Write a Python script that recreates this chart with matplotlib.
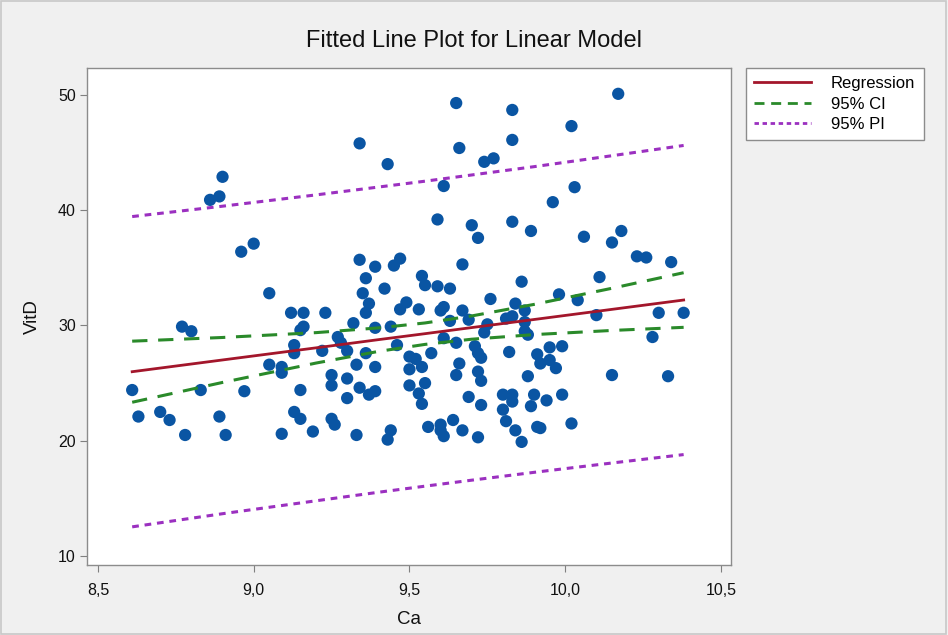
import matplotlib
matplotlib.use('Agg')
import matplotlib.pyplot as plt
from matplotlib.patches import Rectangle
from matplotlib.lines import Line2D
from matplotlib.ticker import FuncFormatter

plt.rcParams['font.family'] = ['Liberation Sans', 'DejaVu Sans']

# scatter data
ca = [8.61, 8.63, 8.70, 8.73, 8.78, 8.77, 8.80, 8.83, 8.86, 8.89, 8.90, 8.89, 8.91, 8.96, 9.00,
      8.97, 9.05, 9.05, 9.09, 9.09, 9.09, 9.12, 9.16, 9.23, 9.15, 9.16, 9.13, 9.13, 9.15, 9.13,
      9.15, 9.19, 9.22, 9.25, 9.25, 9.25, 9.26, 9.27, 9.28, 9.30, 9.30, 9.30, 9.32, 9.33, 9.34,
      9.33, 9.34, 9.34, 9.36, 9.35, 9.37, 9.36, 9.39, 9.36, 9.39, 9.37, 9.39, 9.39,
      9.65, 9.83, 10.02, 10.17, 9.66, 9.83, 9.74, 9.77, 9.43, 9.61, 10.03, 9.96, 9.59, 9.83,
      9.70, 9.89, 9.72, 10.06, 10.15, 10.18, 9.47, 9.45, 9.67, 10.11, 9.54, 9.55, 9.59, 9.63,
      9.42, 9.86, 9.76, 9.98, 10.04, 9.47, 9.49, 9.53, 9.60, 9.61, 9.67, 9.84, 9.87, 9.69,
      9.63, 9.75, 9.81, 9.83, 9.87, 10.10, 9.44, 9.61, 9.65, 9.74, 9.87, 9.88, 9.46, 9.82,
      9.57, 9.71, 9.72, 9.73, 9.91, 9.95, 9.99, 9.50, 9.52, 9.50, 9.54, 9.66, 9.72, 9.92,
      9.95, 9.97, 10.15, 9.65, 9.88, 9.55, 9.73, 9.50, 9.53, 9.54, 9.69, 9.73, 9.80, 9.83,
      9.83, 9.90, 9.89, 9.94, 9.99, 9.80, 9.81, 9.56, 9.60, 9.60, 9.61, 9.64, 9.67, 9.72,
      9.84, 9.86, 9.91, 9.92, 10.02, 9.43, 9.44,
      10.23, 10.26, 10.34, 10.30, 10.38, 10.28, 10.33]
vitd = [24.4, 22.1, 22.5, 21.8, 20.5, 29.9, 29.5, 24.4, 40.9, 41.2, 42.9, 22.1, 20.5, 36.4, 37.1,
        24.3, 32.8, 26.6, 26.4, 25.9, 20.6, 31.1, 31.1, 31.1, 29.6, 29.9, 28.3, 27.6, 24.4, 22.5,
        21.9, 20.8, 27.8, 25.7, 24.8, 21.9, 21.4, 29.0, 28.5, 27.8, 25.4, 23.7, 30.2, 26.6, 24.6,
        20.5, 45.8, 35.7, 34.1, 32.8, 31.9, 31.1, 35.1, 27.6, 26.4, 24.0, 24.3, 29.8,
        49.3, 48.7, 47.3, 50.1, 45.4, 46.1, 44.2, 44.5, 44.0, 42.1, 42.0, 40.7, 39.2, 39.0,
        38.7, 38.2, 37.6, 37.7, 37.2, 38.2, 35.8, 35.2, 35.3, 34.2, 34.3, 33.5, 33.4, 33.2,
        33.2, 33.8, 32.3, 32.7, 32.2, 31.4, 32.0, 31.4, 31.3, 31.6, 31.3, 31.9, 31.3, 30.5,
        30.4, 30.1, 30.6, 30.8, 30.3, 30.9, 29.9, 28.9, 28.5, 29.4, 29.5, 29.2, 28.3, 27.7,
        27.6, 28.2, 27.6, 27.2, 27.5, 28.1, 28.2, 27.3, 27.1, 26.2, 26.4, 26.7, 26.0, 26.7,
        27.0, 26.3, 25.7, 25.7, 25.6, 25.0, 25.2, 24.8, 24.1, 23.2, 23.8, 23.1, 24.0, 24.0,
        23.4, 24.0, 23.0, 23.5, 24.0, 22.7, 21.7, 21.2, 21.4, 20.9, 20.4, 21.8, 20.9, 20.3,
        20.9, 19.9, 21.2, 21.1, 21.5, 20.1, 20.9,
        36.0, 35.9, 35.5, 31.1, 31.1, 29.0, 25.6]

# fitted line and bands
fit_x = [8.61, 8.90, 9.20, 9.40, 9.55, 9.70, 9.90, 10.15, 10.38]
fit_y = [25.99, 27.01, 28.06, 28.77, 29.29, 29.82, 30.52, 31.40, 32.21]
ci_hi = [28.64, 28.96, 29.38, 29.79, 30.22, 30.83, 31.83, 33.23, 34.58]
ci_lo = [23.34, 25.06, 26.74, 27.75, 28.36, 28.81, 29.21, 29.57, 29.84]
pi_hi = [39.45, 40.35, 41.33, 42.01, 42.52, 43.06, 43.78, 44.73, 45.62]
pi_lo = [12.53, 13.67, 14.79, 15.53, 16.06, 16.58, 17.26, 18.07, 18.80]

red, green, purple = '#a3162b', '#2a8a2a', '#9b30c0'

W, H = 948, 635
fig = plt.figure(figsize=(W / 100, H / 100), dpi=100)
fig.patch.set_facecolor('#f0f0f0')
fig.patches.append(Rectangle((0.001, 0.002), 0.997, 0.996, transform=fig.transFigure,
                             fill=False, edgecolor='#c8c8c8', lw=1.2))

ax = fig.add_axes([87 / W, 1 - 565 / H, (731 - 87) / W, (565 - 68) / H])
ax.set_facecolor('white')

ax.scatter(ca, vitd, s=78, color='#0a55a3', edgecolors='none', zorder=3)
ax.plot(fit_x, fit_y, color=red, lw=2.0, zorder=4)
ax.plot(fit_x, ci_hi, color=green, lw=2.2, ls=(0, (5, 3.5)), zorder=4)
ax.plot(fit_x, ci_lo, color=green, lw=2.2, ls=(0, (5, 3.5)), zorder=4)
ax.plot(fit_x, pi_hi, color=purple, lw=2.2, ls=(0, (2.2, 1.9)), zorder=4)
ax.plot(fit_x, pi_lo, color=purple, lw=2.2, ls=(0, (2.2, 1.9)), zorder=4)

ax.set_xlim(8.465, 10.532)
ax.set_ylim(9.22, 52.34)
ax.set_xticks([8.5, 9.0, 9.5, 10.0, 10.5])
ax.set_yticks([10, 20, 30, 40, 50])
ax.xaxis.set_major_formatter(FuncFormatter(lambda v, p: ('%.1f' % v).replace('.', ',')))
ax.tick_params(direction='out', length=5, color='#808080', labelsize=11.5, pad=8, labelcolor='#111111')
ax.tick_params(axis='y', pad=3)
for sp in ax.spines.values():
    sp.set_color('#8c8c8c')
    sp.set_linewidth(1.0)

ax.set_xlabel('Ca', fontsize=13.5, labelpad=9, color='#111111')
ax.set_ylabel('VitD', fontsize=13.5, labelpad=12, color='#111111')
fig.text(0.5, 1 - 41 / H, 'Fitted Line Plot for Linear Model', ha='center', va='center',
         fontsize=17, color='#111111')

# legend handles with shorter dashes so the key shows whole dashes
handles = [Line2D([], [], color=red, lw=2.0),
           Line2D([], [], color=green, lw=2.0, ls=(0, (3.6, 2.4))),
           Line2D([], [], color=purple, lw=2.0, ls=(0, (1.6, 1.3)))]
leg = fig.legend(handles, ['Regression', '95% CI', '95% PI'], loc='upper left',
                 bbox_to_anchor=(746 / W, 1 - 68 / H), fontsize=12,
                 frameon=True, fancybox=False, edgecolor='#8c8c8c', facecolor='white',
                 framealpha=1, handlelength=3.4, borderpad=0.5, labelspacing=0.32,
                 handletextpad=1.2, borderaxespad=0)
leg.get_frame().set_linewidth(1.0)

fig.savefig('out.png', dpi=100, facecolor=fig.get_facecolor())
